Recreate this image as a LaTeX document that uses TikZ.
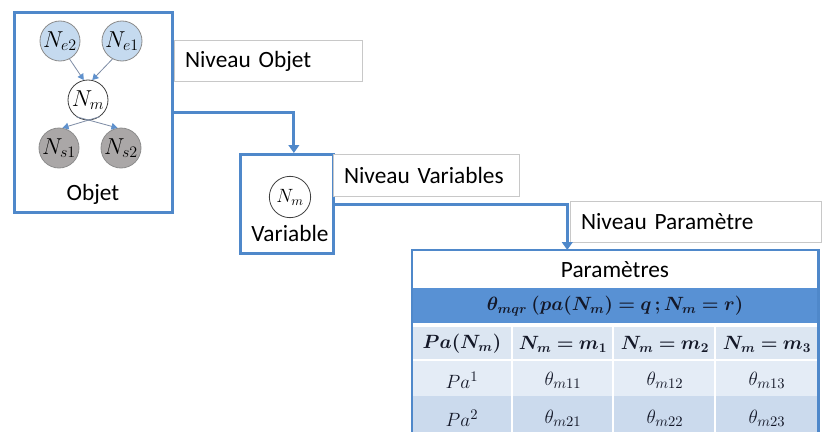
\documentclass[tikz,border=0pt]{standalone}
\usepackage[no-math]{fontspec}
\setmainfont{Carlito}
\usepackage{bm}
\usetikzlibrary{arrows.meta}
\definecolor{boxblue}{RGB}{79,136,202}
\definecolor{lblgray}{RGB}{200,200,200}
\definecolor{nefill}{RGB}{197,218,239}
\definecolor{nsfill}{RGB}{170,167,167}
\definecolor{circgray}{RGB}{140,140,140}
\definecolor{arrline}{RGB}{125,140,165}
\definecolor{arrtip}{RGB}{95,145,205}
\definecolor{hdrblue}{RGB}{88,145,212}
\definecolor{rowA}{RGB}{220,230,242}
\definecolor{rowB}{RGB}{228,236,246}
\definecolor{rowC}{RGB}{203,218,237}
\definecolor{inkc}{RGB}{20,24,40}
\begin{document}
\begin{tikzpicture}[x=0.75pt,y=-0.75pt,
  bluebox/.style={draw=boxblue, line width=2.3pt, fill=white, rectangle, inner sep=0pt, anchor=north west},
  lvlbox/.style={draw=lblgray, line width=0.6pt, fill=white, rectangle, anchor=north west, align=left, inner xsep=8pt, inner ysep=0pt, font=\fontsize{17.5}{20}\selectfont},
  bnode/.style={circle, draw=circgray, line width=0.6pt, minimum size=30pt, inner sep=0pt, font=\fontsize{17}{20}\selectfont},
  objarr/.style={draw=arrline, line width=0.6pt, -{Triangle[width=5pt,length=4.5pt,color=arrtip]}},
  flowarr/.style={draw=boxblue, line width=2.3pt, -{Triangle[width=8pt,length=6pt]}},
  lbl/.style={font=\fontsize{17.5}{20}\selectfont, inner sep=0pt},
  tcell/.style={font=\fontsize{15}{17}\selectfont, inner sep=0pt, color=inkc},
  thead/.style={font=\fontsize{14}{16}\selectfont, inner sep=0pt, color=inkc},
]
\useasboundingbox (0,0) rectangle (822,432);
\clip (0,0) rectangle (822,432);

% Objet box
\node[bluebox, minimum width=118.5pt, minimum height=150pt] (objet) at (13,11) {};
\node[bnode, fill=nefill] (ne2) at (60,41) {$N_{e2}$};
\node[bnode, fill=nefill] (ne1) at (122,41) {$N_{e1}$};
\node[bnode, fill=white, draw=black!75] (nm) at (88,100) {$N_m$};
\node[bnode, fill=nsfill] (ns1) at (59,148) {$N_{s1}$};
\node[bnode, fill=nsfill] (ns2) at (121,148) {$N_{s2}$};
\draw[objarr] (ne2.-62) -- (nm.102);
\draw[objarr] (ne1.-118) -- (nm.78);
\draw[objarr] (nm.-55) -- (ns1.80);
\draw[objarr] (nm.-125) -- (ns2.100);
\node[lbl] (objtxt) at (93,194) {Objet};

% Niveau Objet label
\node[lvlbox, text width=125pt, minimum height=30.75pt] (lvlobj) at (174,40) {Niveau Objet};

% Variable box
\node[bluebox, minimum width=70pt, minimum height=74.25pt] (variable) at (239,153) {};
\node[circle, draw=black!75, line width=0.6pt, minimum size=31pt, inner sep=0pt, font=\fontsize{14}{16}\selectfont] (vnm) at (290,197) {$N_m$};
\node[lbl] (vartxt) at (290,233) {Variable};

% Niveau Variables label
\node[lvlbox, text width=123.5pt, minimum height=31.5pt] (lvlvar) at (333,154) {Niveau Variables};

% Niveau Parametre label
\node[lvlbox, text width=172pt, minimum height=30.75pt] (lvlpar) at (570,201) {Niveau Paramètre};

% Table
\node[rectangle, fill=white, inner sep=0pt, anchor=north west, minimum width=304.5pt, minimum height=142.5pt] (tbl) at (412,250) {};
\fill[hdrblue] (412,288) rectangle (818,323);
\fill[rowA] (412,327) rectangle (818,360);
\fill[rowB] (412,360) rectangle (818,396);
\fill[rowC] (412,396) rectangle (818,440);
\foreach \cx in {512,613,715} {\draw[white, line width=0.8pt] (\cx,327) -- (\cx,440);}
\draw[white, line width=0.8pt] (412,360) -- (818,360);
\draw[boxblue, line width=1.8pt] (tbl.south west) -- (tbl.north west) -- (tbl.north east) -- (tbl.south east);

\node[lbl] (partitle) at (615,270) {Paramètres};
\node[thead] (hdr) at (615,306) {$\bm{\theta_{mqr}\ (pa(N_m)=q\,;N_m=r)}$};
\node[thead] (h0) at (462,344) {$\bm{Pa(N_m)}$};
\node[thead] (h1) at (563,344) {$\bm{N_m=m_1}$};
\node[thead] (h2) at (665,344) {$\bm{N_m=m_2}$};
\node[thead] (h3) at (767,344) {$\bm{N_m=m_3}$};
\node[tcell] (r10) at (462,380) {$Pa^1$};
\node[tcell] (r11) at (563,380) {$\theta_{m11}$};
\node[tcell] (r12) at (665,380) {$\theta_{m12}$};
\node[tcell] (r13) at (767,380) {$\theta_{m13}$};
\node[tcell] (r20) at (462,418) {$Pa^2$};
\node[tcell] (r21) at (563,418) {$\theta_{m21}$};
\node[tcell] (r22) at (665,418) {$\theta_{m22}$};
\node[tcell] (r23) at (767,418) {$\theta_{m23}$};

% Flow connectors
\draw[flowarr] (objet.east) -| ([xshift=5pt]variable.north);
\draw[flowarr] (variable.east) -| ([xshift=-36pt]tbl.north);
\end{tikzpicture}
\end{document}
